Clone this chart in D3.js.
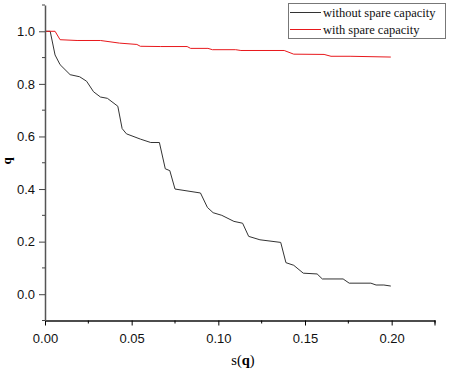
<!DOCTYPE html>
<html>
<head>
<meta charset="utf-8">
<script src="https://cdn.jsdelivr.net/npm/d3@7"></script>
<style>
  body { margin: 0; background: #fff; }
</style>
</head>
<body>
<div id="chart"></div>
<script>
// without spare capacity
var sNo = [0, 0.003, 0.0058, 0.0087, 0.0145, 0.02, 0.024, 0.028, 0.032, 0.036, 0.042, 0.0445, 0.047, 0.055, 0.061, 0.066, 0.0694, 0.072, 0.075, 0.0897, 0.0937, 0.097, 0.102, 0.109, 0.114, 0.1175, 0.124, 0.136, 0.139, 0.1435, 0.149, 0.157, 0.160, 0.172, 0.1755, 0.188, 0.191, 0.1955, 0.1995];
var qNo = [1.0, 1.0, 0.91, 0.873, 0.835, 0.827, 0.81, 0.77, 0.75, 0.745, 0.715, 0.63, 0.61, 0.59, 0.577, 0.577, 0.477, 0.47, 0.40, 0.385, 0.33, 0.31, 0.30, 0.277, 0.27, 0.22, 0.207, 0.197, 0.12, 0.11, 0.08, 0.077, 0.058, 0.058, 0.042, 0.042, 0.035, 0.035, 0.031];
// with spare capacity
var sYes = [0, 0.0058, 0.0087, 0.0185, 0.032, 0.043, 0.053, 0.055, 0.0665, 0.082, 0.084, 0.094, 0.0966, 0.11, 0.113, 0.138, 0.1435, 0.161, 0.165, 0.176, 0.1995];
var qYes = [1.0, 1.0, 0.968, 0.965, 0.965, 0.955, 0.95, 0.943, 0.942, 0.942, 0.935, 0.935, 0.93, 0.93, 0.927, 0.927, 0.913, 0.912, 0.905, 0.905, 0.902];
var seriesNames = ["without spare capacity", "with spare capacity"];
var xTicks = [0, 0.05, 0.1, 0.15, 0.2];
var yTicks = [0, 0.2, 0.4, 0.6, 0.8, 1.0];

var W = 457, H = 377;
var svg = d3.select("#chart").append("svg").attr("width", W).attr("height", H);

var x = d3.scaleLinear().domain([0, 0.225]).range([45, 435]);
var y = d3.scaleLinear().domain([-0.1, 1.1]).range([320.5, 5]);

var line = d3.line().x(function(d) { return x(d[0]); }).y(function(d) { return y(d[1]); });

var dataNo = sNo.map(function(s, i) { return [s, qNo[i]]; });
var dataYes = sYes.map(function(s, i) { return [s, qYes[i]]; });

svg.append("path").attr("d", line(dataNo)).attr("fill", "none").attr("stroke", "#333").attr("stroke-width", 1);
svg.append("path").attr("d", line(dataYes)).attr("fill", "none").attr("stroke", "#e8181c").attr("stroke-width", 1);

// minor ticks
var xMinor = d3.range(0.025, 0.226, 0.05);
var yMinor = d3.range(-0.1, 1.11, 0.2);

var xAxis = svg.append("g").attr("transform", "translate(0,320.5)");
xAxis.call(d3.axisBottom(x).tickValues(xTicks).tickFormat(d3.format(".2f")).tickSize(5).tickSizeOuter(0));
xMinor.forEach(function(v) {
  xAxis.append("line").attr("x1", x(v)).attr("x2", x(v)).attr("y1", 0).attr("y2", 3).attr("stroke", "#000");
});
xAxis.append("line").attr("x1", x(0.225)).attr("x2", x(0.225)).attr("y1", 0).attr("y2", 5).attr("stroke", "#000");

var yAxis = svg.append("g").attr("transform", "translate(45,0)");
yAxis.call(d3.axisLeft(y).tickValues(yTicks).tickFormat(d3.format(".1f")).tickSize(6).tickSizeOuter(0));
yMinor.forEach(function(v) {
  yAxis.append("line").attr("x1", 0).attr("x2", -3).attr("y1", y(v)).attr("y2", y(v)).attr("stroke", "#444");
});

svg.selectAll(".domain").attr("stroke-width", 1.5);
xAxis.select(".domain").attr("stroke", "#111");
yAxis.select(".domain").attr("stroke", "#555");
yAxis.selectAll(".tick line").attr("stroke", "#444");
svg.selectAll(".tick text").attr("font-family", "Liberation Sans, Arial, sans-serif").attr("font-size", 13).attr("fill", "#111");
xAxis.selectAll(".tick text").attr("dy", "1.1em");
yAxis.selectAll(".tick text").attr("dx", "-1");

// axis titles
svg.append("text").attr("transform", "translate(11,161) rotate(-90)")
  .attr("text-anchor", "middle").attr("font-family", "Liberation Serif, Times New Roman, serif")
  .attr("font-size", 13).attr("font-weight", "bold").text("q");
var xt = svg.append("text").attr("x", 243).attr("y", 365).attr("text-anchor", "middle")
  .attr("font-family", "Liberation Serif, Times New Roman, serif").attr("font-size", 14.5);
xt.append("tspan").text("s(");
xt.append("tspan").attr("font-weight", "bold").text("q");
xt.append("tspan").text(")");

// legend
var lg = svg.append("g");
lg.append("rect").attr("x", 288.5).attr("y", 3.5).attr("width", 157).attr("height", 35)
  .attr("fill", "#fff").attr("stroke", "#777").attr("stroke-width", 1);
var colors = ["#333", "#e8181c"];
seriesNames.forEach(function(n, i) {
  var ly = 12.5 + i * 17;
  lg.append("line").attr("x1", 290).attr("x2", 321).attr("y1", ly).attr("y2", ly).attr("stroke", colors[i]).attr("stroke-width", 1);
  lg.append("text").attr("x", 323).attr("y", ly + 4).attr("font-family", "Liberation Serif, Times New Roman, serif")
    .attr("font-size", 12.5).attr("fill", "#111").text(n);
});
</script>
</body>
</html>
